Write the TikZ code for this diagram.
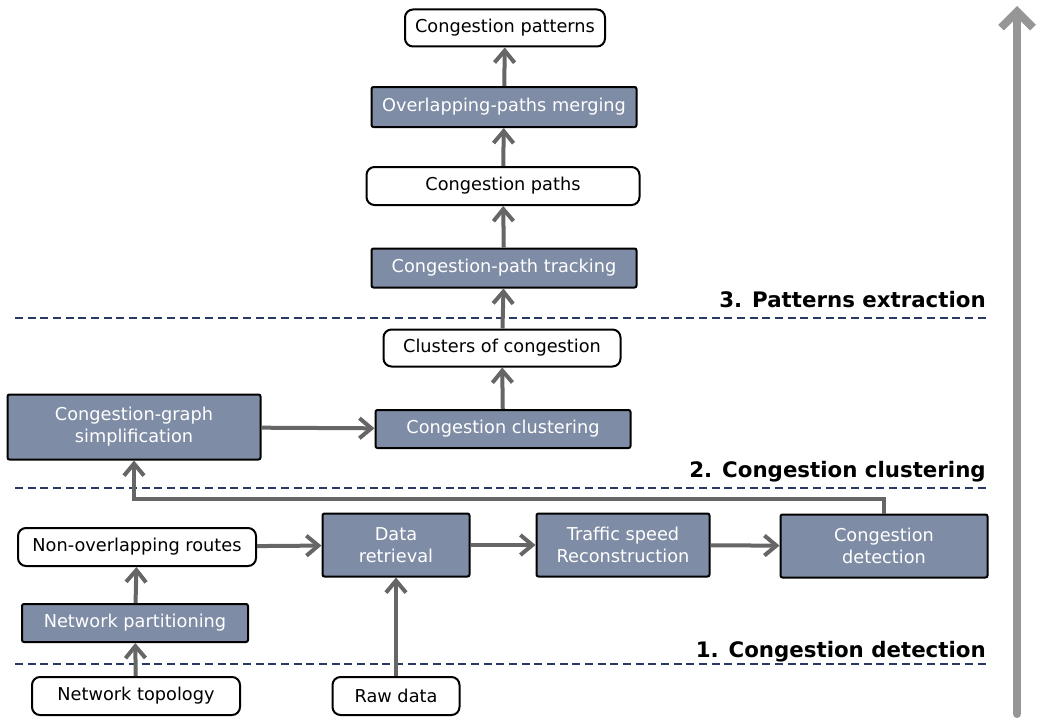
\documentclass[tikz,border=0pt]{standalone}
\usepackage{fontspec}
\setmainfont{DejaVu Sans}
\usetikzlibrary{positioning}
\usetikzlibrary{arrows.meta}
\definecolor{boxFill}{RGB}{127,140,165}
\definecolor{lineGrey}{RGB}{102,102,102}
\definecolor{bigGrey}{RGB}{150,150,150}
\definecolor{sepBlue}{RGB}{40,58,100}
\tikzset{
    objRoundRectangle/.style={rectangle, rounded corners=6pt, inner sep=0pt, text centered, draw=black, line width=1.5pt, fill=white, font=\fontsize{13.3}{16.5}\selectfont},
    objRectangle/.style={rectangle, rounded corners=1.5pt, inner sep=0pt, text centered, draw=black, line width=1.5pt, fill=boxFill, text=white, font=\fontsize{13.3}{16.5}\selectfont, align=center},
    arrow/.style={draw=lineGrey, line width=3pt, -{Straight Barb[length=9pt, width=15pt, line width=3pt]}},
    bigArrow/.style={draw=bigGrey, line width=6pt, line cap=round, -{Straight Barb[length=12pt, width=24pt, line width=6pt]}},
    sepLine/.style={draw=sepBlue, line width=2pt, dash pattern=on 6pt off 3.5pt},
    stageLabel/.style={anchor=base east, inner sep=0pt, font=\fontsize{16}{18}\selectfont\bfseries}
}
\begin{document}
\begin{tikzpicture}[x=0.75pt, y=-0.75pt]
    \useasboundingbox (0,0) rectangle (1037,724);

    % stage separators
    \draw [sepLine] (15,318) -- (988,318);
    \draw [sepLine] (15,488) -- (988,488);
    \draw [sepLine] (15,664) -- (988,664);
    \node (s3) [stageLabel] at (986,307) {3. Patterns extraction};
    \node (s2) [stageLabel] at (986,477) {2. Congestion clustering};
    \node (s1) [stageLabel] at (986,657) {1. Congestion detection};

    % boxes
    \node (001) [objRoundRectangle, minimum width=150pt, minimum height=27.75pt] at (505,28) {Congestion patterns};
    \node (002) [objRectangle, minimum width=198.75pt, minimum height=30pt] at (504,107) {Overlapping-paths merging};
    \node (003) [objRoundRectangle, minimum width=204.75pt, minimum height=28.5pt] at (503,186) {Congestion paths};
    \node (004) [objRectangle, minimum width=198.75pt, minimum height=29.25pt] at (504,268) {Congestion-path tracking};
    \node (005) [objRoundRectangle, minimum width=177.75pt, minimum height=27.75pt] at (502,348) {Clusters of congestion};
    \node (006) [objRectangle, minimum width=189.75pt, minimum height=48.75pt] at (134,427) {Congestion-graph\\simplification};
    \node (007) [objRectangle, minimum width=191.25pt, minimum height=28.5pt] at (503,429) {Congestion clustering};
    \node (008) [objRoundRectangle, minimum width=178.5pt, minimum height=28.5pt] at (137,547) {Non-overlapping routes};
    \node (009) [objRectangle, minimum width=110.25pt, minimum height=47.25pt] at (396,545) {Data\\retrieval};
    \node (010) [objRectangle, minimum width=129.75pt, minimum height=47.25pt] at (623,545) {Traffic speed\\Reconstruction};
    \node (011) [objRectangle, minimum width=155.25pt, minimum height=47.25pt] at (884,546) {Congestion\\detection};
    \node (012) [objRectangle, minimum width=169.5pt, minimum height=28.5pt] at (135,623) {Network partitioning};
    \node (013) [objRoundRectangle, minimum width=156pt, minimum height=28.5pt] at (136,696) {Network topology};
    \node (014) [objRoundRectangle, minimum width=95.25pt, minimum height=28.5pt] at (396,696) {Raw data};

    \coordinate (low) at (1017,714);
    \coordinate (high) at (1017,6);

    % flow
    \draw [arrow] (013) -- (012);
    \draw [arrow] (012) -- (008);
    \draw [arrow] (008) -- (009);
    \draw [arrow] (014) -- (009);
    \draw [arrow] (009) -- (010);
    \draw [arrow] (010) -- (011);
    \draw [arrow] (011.north) -- ++(0,-15) -| (006.south);
    \draw [arrow] (006) -- (007);
    \draw [arrow] (007) -- (005);
    \draw [arrow] (005) -- (004);
    \draw [arrow] (004) -- (003);
    \draw [arrow] (003) -- (002);
    \draw [arrow] (002) -- (001);
    \draw [bigArrow] (low) -- (high);

\end{tikzpicture}
\end{document}
